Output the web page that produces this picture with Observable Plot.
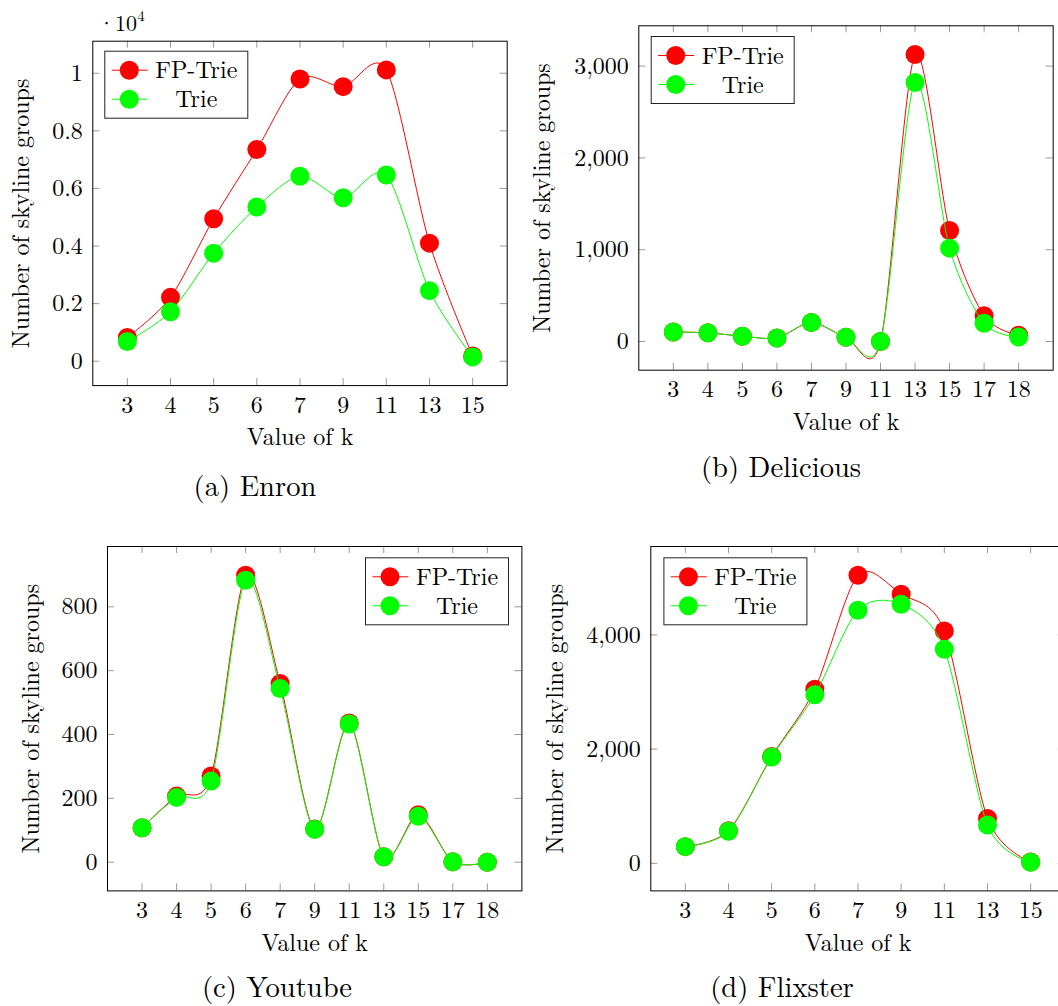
<!DOCTYPE html>
<html><head><meta charset="utf-8">
<script src="https://cdn.jsdelivr.net/npm/d3@7"></script>
<script src="https://cdn.jsdelivr.net/npm/@observablehq/plot@0.6"></script>
<style>
html,body{margin:0;padding:0;background:#fff;}
#root{position:relative;width:1058px;height:1006px;overflow:hidden;font-family:"Latin Modern Roman","Liberation Serif",serif;color:#000;}
.panel{position:absolute;}
.over{position:absolute;left:0;top:0;}
</style></head><body><div id="root"></div>
<script>
// ---- data ----
const enronK = ["3","4","5","6","7","9","11","13","15"];
const enronFP = [825, 2218, 4948, 7352, 9803, 9535, 10116, 4100, 186];
const enronTrie = [685, 1719, 3751, 5354, 6423, 5679, 6469, 2451, 151];
const enronYTicks = [0, 2000, 4000, 6000, 8000, 10000];

const deliciousK = ["3","4","5","6","7","9","11","13","15","17","18"];
const deliciousFP = [104, 94, 58, 39, 207, 47, 0, 3127, 1209, 280, 67];
const deliciousTrie = [104, 94, 58, 39, 207, 47, 0, 2822, 1017, 198, 48];
const deliciousYTicks = [0, 1000, 2000, 3000];

const youtubeK = ["3","4","5","6","7","9","11","13","15","17","18"];
const youtubeFP = [108, 207, 270, 899, 560, 104, 436, 17, 149, 1, 0];
const youtubeTrie = [108, 203, 254, 883, 544, 103, 433, 17, 144, 1, 0];
const youtubeYTicks = [0, 200, 400, 600, 800];

const flixsterK = ["3","4","5","6","7","9","11","13","15"];
const flixsterFP = [292, 571, 1872, 3050, 5045, 4711, 4070, 787, 25];
const flixsterTrie = [292, 560, 1860, 2950, 4431, 4536, 3749, 671, 20];
const flixsterYTicks = [0, 2000, 4000];

const seriesNames = ["FP-Trie", "Trie"];
const captions = ["(a) Enron", "(b) Delicious", "(c) Youtube", "(d) Flixster"];
const RED = "#ff0000", GREEN = "#00ff00";
const FONT = '"Latin Modern Roman","Liberation Serif",serif';
const root = document.getElementById("root");

function panel(cfg) {
  const {cats, fp, trie, yTicks, yFormat, left, top, fx, fy, labelDx} = cfg;
  const FW = 414.4, FH = 344.4;
  const fpRows = cats.map((k, i) => ({k, v: fp[i]}));
  const trieRows = cats.map((k, i) => ({k, v: trie[i]}));
  const all = fp.concat(trie);
  const lo = d3.min(all), hi = d3.max(all), r = hi - lo;
  const mL = fx - left, mT = fy - top, mR = 20, mB = 90;
  const width = mL + FW + mR, height = mT + FH + mB;
  const tk = 7;
  const svg = Plot.plot({
    width, height, marginLeft: mL, marginTop: mT, marginRight: mR, marginBottom: mB,
    style: {fontFamily: FONT, fontSize: "24px", color: "#000", background: "transparent", maxWidth: "none", overflow: "visible"},
    x: {type: "point", domain: cats, padding: 0.1 * (cats.length - 1), round: false},
    y: {domain: [lo - 0.1 * r, hi + 0.1 * r]},
    marks: [
      Plot.tickX(cats, {x: d => d, stroke: "#999", insetTop: FH - tk}),
      Plot.tickX(cats, {x: d => d, stroke: "#999", insetBottom: FH - tk}),
      Plot.tickY(yTicks, {y: d => d, stroke: "#999", insetRight: FW - tk}),
      Plot.tickY(yTicks, {y: d => d, stroke: "#999", insetLeft: FW - tk}),
      Plot.axisX({ticks: cats, tickSize: 0, tickPadding: 10, label: null, fontFamily: FONT}),
      Plot.axisY({ticks: yTicks, tickSize: 0, tickPadding: 10, tickFormat: yFormat, label: null, fontFamily: FONT}),
      Plot.line(fpRows, {x: "k", y: "v", stroke: RED, strokeWidth: 1, curve: "cardinal", tension: 0.15}),
      Plot.dot(fpRows, {x: "k", y: "v", r: 9.5, fill: RED}),
      Plot.line(trieRows, {x: "k", y: "v", stroke: GREEN, strokeWidth: 1, curve: "cardinal", tension: 0.15}),
      Plot.dot(trieRows, {x: "k", y: "v", r: 9.5, fill: GREEN}),
      Plot.frame({stroke: "#000", strokeWidth: 1}),
      Plot.text(["Number of skyline groups"], {text: d => d, frameAnchor: "left", textAnchor: "middle", lineAnchor: "middle", rotate: -90, dx: labelDx, fontFamily: FONT}),
      Plot.text(["Value of k"], {text: d => d, frameAnchor: "bottom", textAnchor: "middle", lineAnchor: "middle", dy: 52, fontFamily: FONT})
    ]
  });
  d3.select(svg).selectAll("text").style("font-family", FONT);
  const div = document.createElement("div");
  div.className = "panel";
  div.style.left = left + "px";
  div.style.top = top + "px";
  div.style.width = width + "px";
  div.appendChild(svg);
  root.appendChild(div);
}

const fmtEnron = d => String(d / 10000);
const fmtComma = d3.format(",");

panel({cats: enronK, fp: enronFP, trie: enronTrie, yTicks: enronYTicks, yFormat: fmtEnron,
  left: 0, top: 0, fx: 92.3, fy: 40.7, labelDx: -71});
panel({cats: deliciousK, fp: deliciousFP, trie: deliciousTrie, yTicks: deliciousYTicks, yFormat: fmtComma,
  left: 529, top: 0, fx: 638.3, fy: 25.3, labelDx: -96});
panel({cats: youtubeK, fp: youtubeFP, trie: youtubeTrie, yTicks: youtubeYTicks, yFormat: fmtComma,
  left: 0, top: 500, fx: 107, fy: 546, labelDx: -76});
panel({cats: flixsterK, fp: flixsterFP, trie: flixsterTrie, yTicks: flixsterYTicks, yFormat: fmtComma,
  left: 529, top: 500, fx: 650.3, fy: 546, labelDx: -95});

// ---- overlay: legends, exponent, captions ----
const over = d3.create("svg").attr("class", "over").attr("width", 1058).attr("height", 1006)
  .style("font-family", FONT);

function legend(x, y) {
  const w = 144, h = 68;
  const g = over.append("g").attr("transform", `translate(${x},${y})`);
  g.append("rect").attr("x", 0.5).attr("y", 0.5).attr("width", w - 1).attr("height", h - 1)
    .attr("fill", "#fff").attr("stroke", "#222").attr("stroke-width", 1);
  const colors = [RED, GREEN];
  const rowsY = [19.5, 48.5];
  seriesNames.forEach((name, i) => {
    const cy = rowsY[i];
    g.append("line").attr("x1", 7.4).attr("x2", 43.4).attr("y1", cy).attr("y2", cy)
      .attr("stroke", colors[i]).attr("stroke-width", 1);
    g.append("circle").attr("cx", 25).attr("cy", cy).attr("r", 9.5).attr("fill", colors[i]);
    g.append("text").attr("x", 92).attr("y", cy + 8.2).attr("text-anchor", "middle")
      .style("font-size", "24px").text(name);
  });
}
legend(104.3, 50.7);
legend(650.7, 36);
legend(365, 557.3);
legend(663.4, 557.3);

const exp = over.append("text").attr("x", 98).attr("y", 31).style("font-size", "22px");
exp.append("tspan").text("·10");
exp.append("tspan").attr("dy", -10).style("font-size", "15px").text("4");

const capPos = [[255, 496], [781, 477], [277, 997], [782, 997]];
captions.forEach((c, i) => {
  over.append("text").attr("x", capPos[i][0]).attr("y", capPos[i][1]).attr("text-anchor", "middle")
    .style("font-size", "28.6px").text(c);
});
root.appendChild(over.node());
</script>
</body></html>
